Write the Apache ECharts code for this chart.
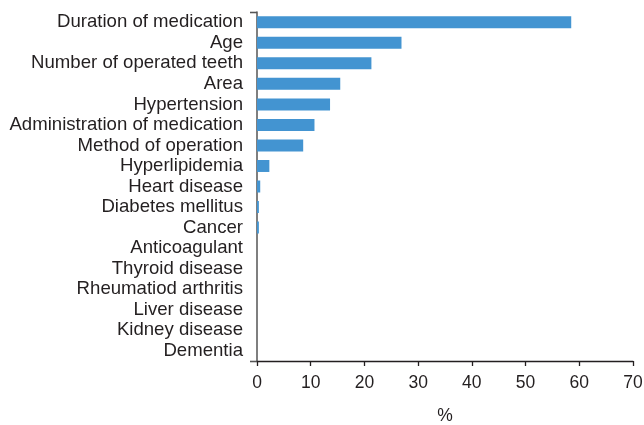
<!DOCTYPE html>
<html><head><meta charset="utf-8">
<script src="https://cdn.jsdelivr.net/npm/echarts@6/dist/echarts.min.js"></script>
<style>html,body{margin:0;padding:0;background:#fff}#c{width:644px;height:425px}</style>
</head><body><div id="c"></div>
<script>
var categories = ["Duration of medication","Age","Number of operated teeth","Area","Hypertension","Administration of medication","Method of operation","Hyperlipidemia","Heart disease","Diabetes mellitus","Cancer","Anticoagulant","Thyroid disease","Rheumatiod arthritis","Liver disease","Kidney disease","Dementia"];
var values = [58.5,26.9,21.3,15.5,13.6,10.7,8.6,2.3,0.6,0.35,0.35,0,0,0,0,0,0];
var xTicks = [0,10,20,30,40,50,60,70];
var xName = "%";

var FONT = 'Liberation Sans';
var TXT = '#231f20';
var firstOnly = function(i){ return i === 0; };
var chart = echarts.init(document.getElementById('c'));
chart.setOption({
  animation:false,
  grid:{left:257,right:11,top:12,bottom:64,containLabel:false,outerBoundsMode:'none'},
  xAxis:{type:'value',min:xTicks[0],max:xTicks[xTicks.length-1],interval:10,
    name:xName,nameLocation:'middle',nameGap:46,
    nameTextStyle:{fontSize:17.5,color:TXT,fontFamily:FONT},
    axisLine:{show:true,lineStyle:{color:TXT,width:1.3}},
    axisTick:{show:true,length:5,lineStyle:{color:TXT,width:1.3}},
    axisLabel:{fontSize:17.5,color:TXT,fontFamily:FONT,margin:13},
    splitLine:{show:false}},
  yAxis:[
    {type:'category',data:categories,inverse:true,position:'left',
     axisLine:{show:true,lineStyle:{color:'#555',width:1.5}},
     axisTick:{show:true,length:7,interval:firstOnly,lineStyle:{color:'#555',width:1.3}},
     axisLabel:{fontSize:18.6,color:TXT,fontFamily:FONT,margin:14,interval:0}},
    {type:'category',data:categories.slice().reverse(),position:'left',
     axisLine:{show:false},
     axisTick:{show:true,length:7,interval:firstOnly,lineStyle:{color:'#555',width:1.3}},
     axisLabel:{show:false}}
  ],
  series:[{type:'bar',yAxisIndex:0,data:values,barWidth:12,itemStyle:{color:'#4394d1'}}]
});
</script></body></html>
